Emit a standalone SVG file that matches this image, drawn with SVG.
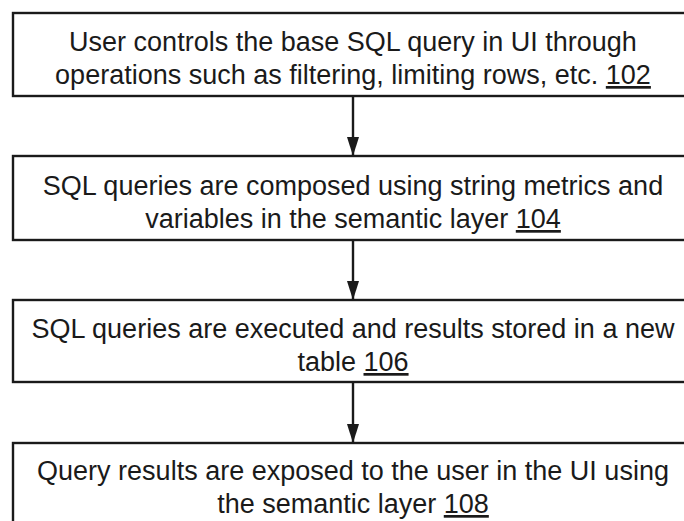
<svg xmlns="http://www.w3.org/2000/svg" width="684" height="521" viewBox="0 0 684 521">
  <style>
    .box { fill: #ffffff; stroke: #1a1a1a; stroke-width: 2.4; }
    .label { font-family: "Liberation Sans", Arial, sans-serif; font-size: 27px; fill: #1a1a1a; text-anchor: middle; }
    .ref { text-decoration: underline; }
    .edge { stroke: #1a1a1a; stroke-width: 2.4; fill: none; marker-end: url(#arrow); }
  </style>
  <defs>
    <!-- filled triangular head, tip at the end of the line -->
    <marker id="arrow" viewBox="0 0 19 12" refX="19" refY="6" markerWidth="19" markerHeight="12" markerUnits="userSpaceOnUse" orient="auto">
      <path d="M0,0 L19,6 L0,12 z" fill="#1a1a1a"/>
    </marker>
  </defs>
  <rect width="684" height="521" fill="#ffffff"/>

  <g id="connectors">
    <line class="edge" x1="353" y1="96" x2="353" y2="156"/>
    <line class="edge" x1="353" y1="240" x2="353" y2="300"/>
    <line class="edge" x1="353" y1="382" x2="353" y2="443"/>
  </g>

  <g id="step-102">
    <rect class="box" x="13" y="13" width="680" height="83"/>
    <text class="label" x="353" y="51">User controls the base SQL query in UI through</text>
    <text class="label" x="353" y="84">operations such as filtering, limiting rows, etc. <tspan class="ref">102</tspan></text>
  </g>

  <g id="step-104">
    <rect class="box" x="13" y="156" width="680" height="84"/>
    <text class="label" x="353" y="195">SQL queries are composed using string metrics and</text>
    <text class="label" x="353" y="228">variables in the semantic layer <tspan class="ref">104</tspan></text>
  </g>

  <g id="step-106">
    <rect class="box" x="13" y="300" width="680" height="82"/>
    <text class="label" x="353" y="338">SQL queries are executed and results stored in a new</text>
    <text class="label" x="353" y="371">table <tspan class="ref">106</tspan></text>
  </g>

  <g id="step-108">
    <rect class="box" x="13" y="443" width="680" height="84"/>
    <text class="label" x="353" y="480">Query results are exposed to the user in the UI using</text>
    <text class="label" x="353" y="513">the semantic layer <tspan class="ref">108</tspan></text>
  </g>
</svg>
